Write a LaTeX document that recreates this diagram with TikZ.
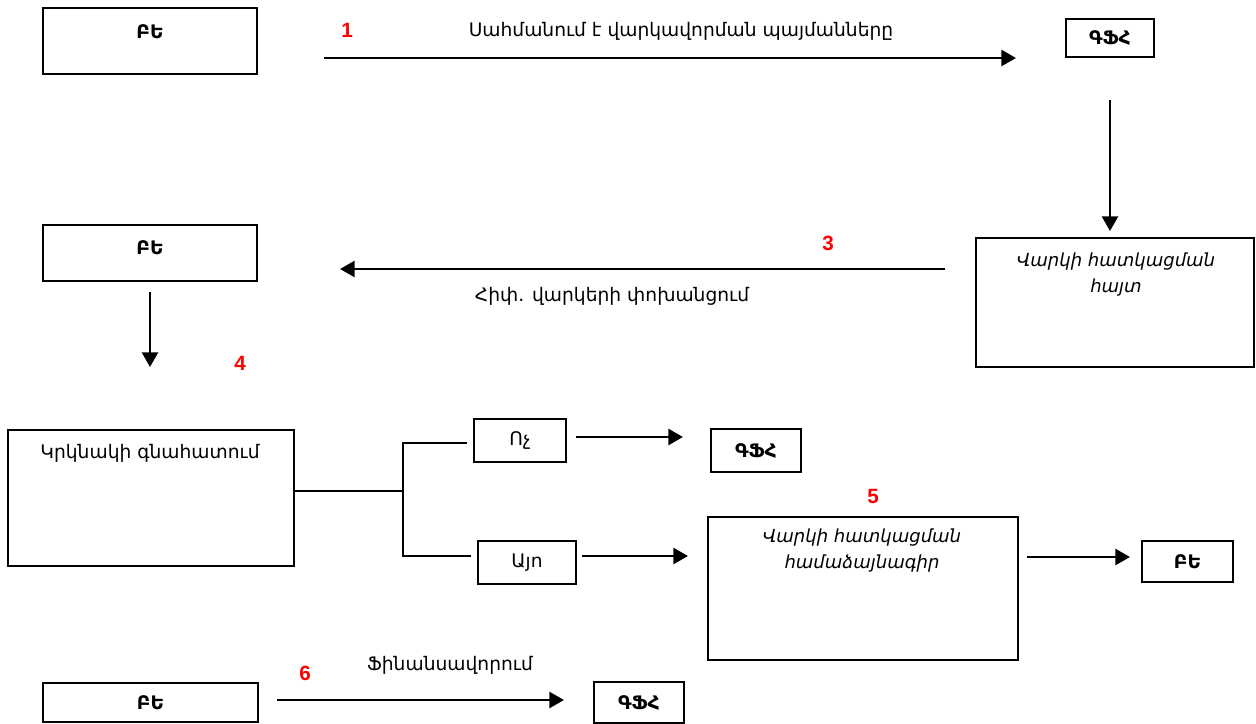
\documentclass[tikz,border=0pt]{standalone}
\usepackage{fontspec}
\setmainfont{DejaVu Sans}
\newfontfamily\numfont{Liberation Sans}
\usetikzlibrary{arrows.meta}

\tikzset{every picture/.style={line width=0.75pt}}
\tikzset{
	box/.style 2 args={draw, line width=1.2pt, inner sep=0pt, minimum width=#1*0.75pt, minimum height=#2*0.75pt},
	arr/.style={line width=1.9pt, -{Triangle[length=11pt,width=12pt]}},
	fork/.style={line width=1.2pt},
	txt/.style={inner sep=0.75pt, font=\fontsize{14}{16}\selectfont},
	btxt/.style={inner sep=0.75pt, font=\fontsize{14}{16}\selectfont\bfseries},
	itxt/.style={inner sep=0.75pt, align=center, font=\fontsize{13.5}{19.5}\selectfont\itshape},
	num/.style={inner sep=0.75pt, text=red, font=\numfont\fontsize{15.5}{17}\selectfont\bfseries}
}

\begin{document}
\begin{tikzpicture}[x=0.75pt,y=0.75pt,yscale=-1,xscale=1]
		\path[use as bounding box] (0,0) rectangle (1256,724);
		
		%Shape: Rectangle
		\node [box={214}{66}] (be1) at (150,41) {};
		\node [box={88}{38}, btxt] (gfh1) at (1110,38) {ԳՖՀ};
		\node [box={278}{129}] (hayt) at (1115,302.5) {};
		\node [box={214}{56}] (be2) at (150,253) {};
		\node [box={286}{136}] (krk) at (151,498) {};
		\node [box={92}{43}, txt] (voch) at (520,440.5) {Ոչ};
		\node [box={90}{43}, btxt] (gfh2) at (756,450.5) {ԳՖՀ};
		\node [box={98}{43}, txt] (ayo) at (527,562.5) {Այո};
		\node [box={310}{143}] (hamadz) at (863,588.5) {};
		\node [box={91}{41}, btxt] (be3) at (1187.5,561.5) {ԲԵ};
		\node [box={215}{39}, btxt] (be4) at (150.5,702.5) {ԲԵ};
		\node [box={90}{41}, btxt] (gfh3) at (639,702.5) {ԳՖՀ};
		
		% Text Node
		\node [btxt] (be1t) at (150,32) {ԲԵ};
		\node [itxt] (haytt) at (1116,275) {Վարկի հատկացման\\հայտ};
		\node [btxt] (be2t) at (150,248) {ԲԵ};
		\node [txt] (krkt) at (150,453) {Կրկնակի գնահատում};
		\node [itxt] (hamadzt) at (862,551) {Վարկի հատկացման\\համաձայնագիր};
		
		% Text Node
		\node [txt] (lbl1) at (681,31) {Սահմանում է վարկավորման պայմանները};
		\node [txt] (lbl3) at (612,296) {Հիփ. վարկերի փոխանցում};
		\node [txt] (lbl6) at (450,665) {Ֆինանսավորում};
		
		% Text Node
		\node [num] (n1) at (347,30) {1};
		\node [num] (n3) at (828,243) {3};
		\node [num] (n4) at (240,363) {4};
		\node [num] (n5) at (873,496) {5};
		\node [num] (n6) at (305,673) {6};
		
		%Straight Lines
		\coordinate (a1s) at (324,58);
		\coordinate (a1e) at (1016,58);
		\coordinate (a2s) at (1110,100);
		\coordinate (a2e) at (1110,231);
		\coordinate (a3s) at (945,269);
		\coordinate (a3e) at (340,269);
		\coordinate (a4s) at (150,292);
		\coordinate (a4e) at (150,367);
		\coordinate (a5s) at (576,437);
		\coordinate (a5e) at (683,437);
		\coordinate (a6s) at (582,556);
		\coordinate (a6e) at (688,556);
		\coordinate (a7s) at (1027,557);
		\coordinate (a7e) at (1130,557);
		\coordinate (a8s) at (277,700);
		\coordinate (a8e) at (564,700);
		\draw [arr] (a1s) -- (a1e);
		\draw [arr] (a2s) -- (a2e);
		\draw [arr] (a3s) -- (a3e);
		\draw [arr] (a4s) -- (a4e);
		\draw [arr] (a5s) -- (a5e);
		\draw [arr] (a6s) -- (a6e);
		\draw [arr] (a7s) -- (a7e);
		\draw [arr] (a8s) -- (a8e);
		
		%Fork Lines
		\coordinate (fk) at (403,491);
		\coordinate (fkt) at (467,443);
		\coordinate (fkb) at (471,556);
		\draw [fork] (krk.east |- fk) -- (fk);
		\draw [fork] (fkt) -- (fk |- fkt) -- (fk |- fkb) -- (fkb);
		
\end{tikzpicture}
\end{document}
